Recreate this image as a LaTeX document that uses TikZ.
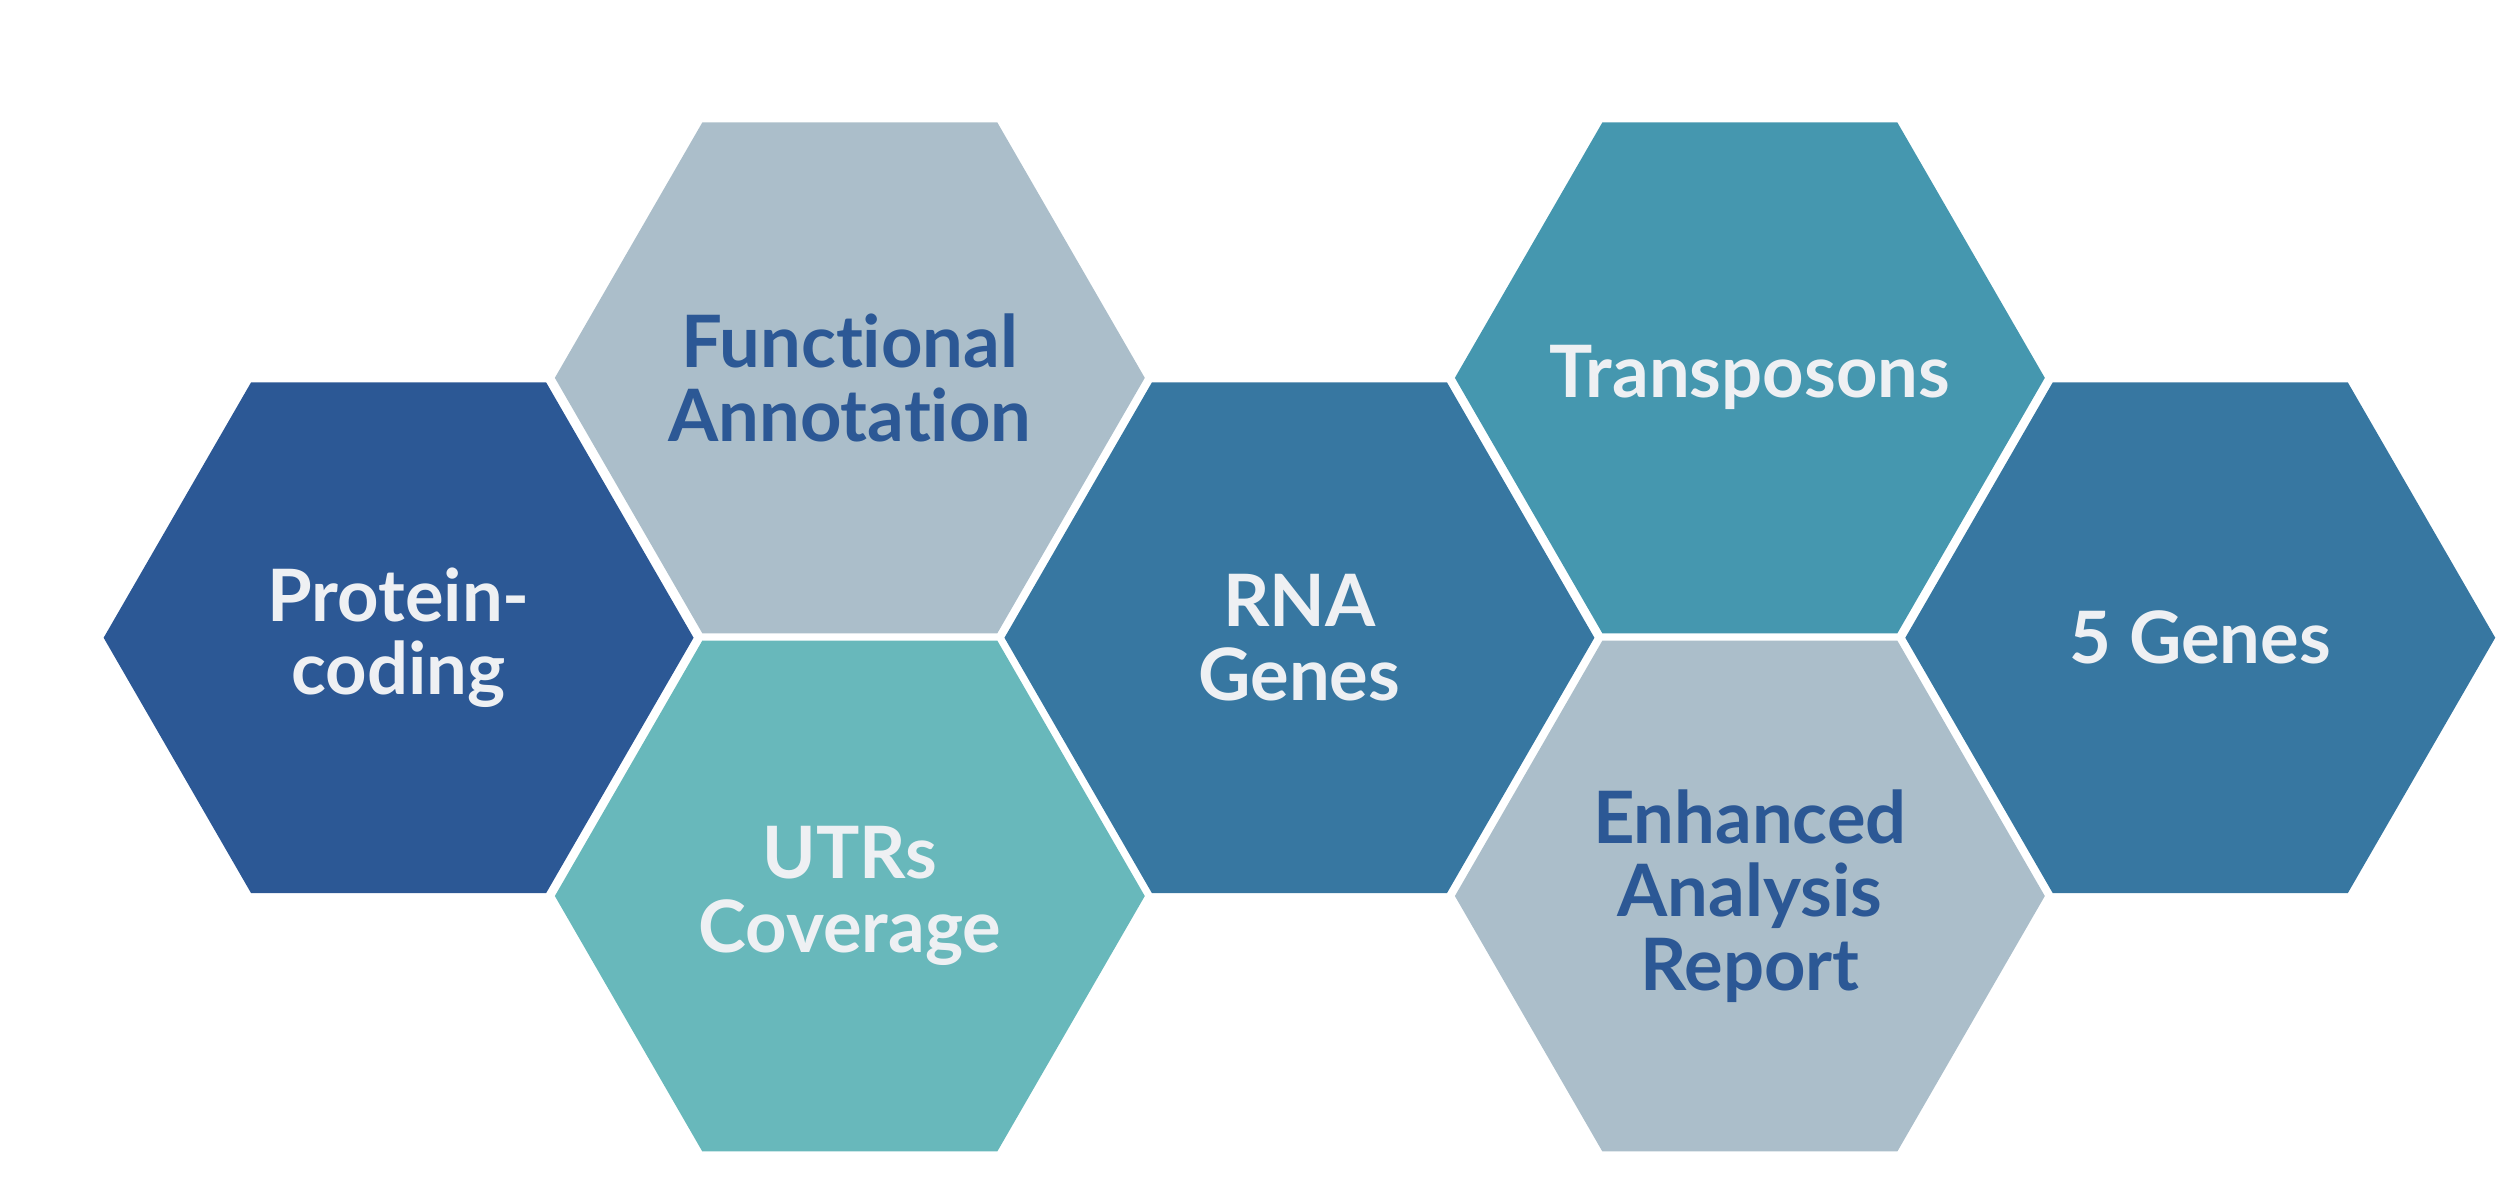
\documentclass[tikz,border=0pt]{standalone}
\usepackage{fontspec}
\setmainfont{Lato}[Ligatures=NoCommon]
\usetikzlibrary{shapes.geometric}

\definecolor{hexnavy}{HTML}{2C5895}
\definecolor{hexgrey}{HTML}{ABBECA}
\definecolor{hexaqua}{HTML}{68B8BB}
\definecolor{hexblue}{HTML}{3777A1}
\definecolor{hexteal}{HTML}{4597AF}
\definecolor{lighttext}{HTML}{EEF0F3}

\begin{document}
\begin{tikzpicture}[
        hexcell/.style={regular polygon, regular polygon sides=6, minimum size=3.70cm,
            inner sep=-0.6cm, outer sep=0pt, draw=none, align=center,
            font=\fontsize{12.9}{13.1}\selectfont\bfseries},
        lightcell/.style={hexcell, text=lighttext},
        darkcell/.style={hexcell, text=hexnavy}
    ]
        % Page
        \useasboundingbox (0,0) rectangle (15.68,7.48);

        % Left group
        \node[lightcell, fill=hexnavy] (protein) at (2.50,3.48) {Protein-\\coding};
        \node[darkcell, fill=hexgrey] (functional) at (5.33,5.11) {Functional\\Annotation};
        \node[lightcell, fill=hexaqua] (utrs) at (5.33,1.86) {UTRs\\Coverage};
        \node[lightcell, fill=hexblue] (rna) at (8.15,3.48) {RNA\\Genes};

        % Right group
        \node[lightcell, fill=hexteal] (transposons) at (10.975,5.11) {Transposons};
        \node[darkcell, fill=hexgrey] (report) at (10.975,1.86) {Enhanced\\Analysis\\Report};
        \node[lightcell, fill=hexblue] (fivegenes) at (13.80,3.48) {5 Genes};

    \end{tikzpicture}
\end{document}
